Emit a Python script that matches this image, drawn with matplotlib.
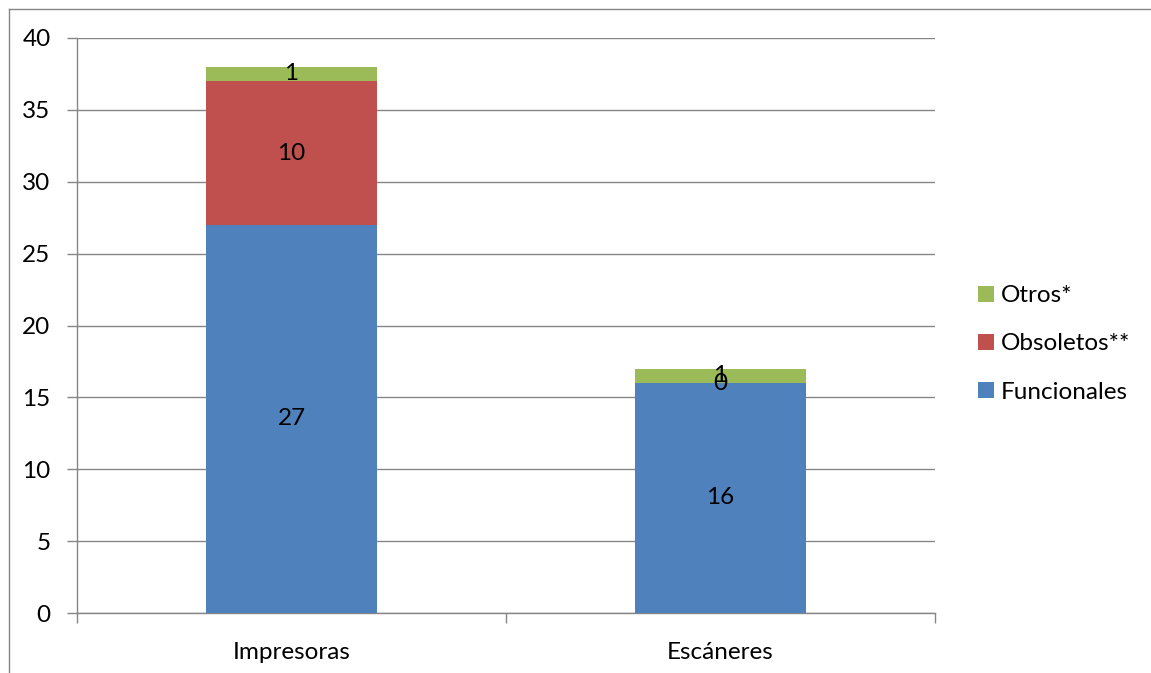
import matplotlib
matplotlib.use("Agg")
import matplotlib.pyplot as plt
from matplotlib.lines import Line2D
import numpy as np

categories = ["Impresoras", "Escáneres"]
funcionales = [27, 16]
obsoletos = [10, 0]
otros = [1, 1]
series_names = ["Funcionales", "Obsoletos**", "Otros*"]
colors = ["#4F81BD", "#C0504D", "#9BBB59"]
y_ticks = [0, 5, 10, 15, 20, 25, 30, 35, 40]

plt.rcParams['font.family'] = ['Lato', 'DejaVu Sans']
FS = 17.5

W, H = 1151, 673
fig = plt.figure(figsize=(W / 100, H / 100), dpi=100)
ax = fig.add_axes([77 / W, 1 - 613 / H, (935 - 77) / W, (613 - 38) / H])

x = np.arange(len(categories))
width = 0.4
bottom = np.zeros(len(categories))
handles = []
for vals, name, col in zip([funcionales, obsoletos, otros], series_names, colors):
    vals = np.array(vals, dtype=float)
    bars = ax.bar(x, vals, width, bottom=bottom, color=col, label=name, zorder=3)
    for xi, b, v in zip(x, bottom, vals):
        ax.text(xi, b + v / 2, f"{int(v)}", ha="center", va="center",
                fontsize=FS, color="black", zorder=4)
    handles.append(bars)
    bottom = bottom + vals

ax.set_xlim(-0.5, 1.5)
ax.set_ylim(0, 40)
ax.set_yticks(y_ticks)
ax.set_yticklabels([str(t) for t in y_ticks])
ax.yaxis.grid(True, color="#868686", linewidth=1.0, zorder=0)
ax.set_axisbelow(True)

ax.set_xticks(x)
ax.set_xticklabels(categories)
ax.set_xticks([-0.5, 0.5, 1.5], minor=True)
ax.tick_params(axis="x", which="major", length=0, pad=21, labelsize=FS)
ax.tick_params(axis="x", which="minor", length=7, color="#868686", width=1)
ax.tick_params(axis="y", length=7, color="#868686", width=1, pad=12, labelsize=FS)

for s in ["top", "right"]:
    ax.spines[s].set_visible(False)
for s in ["left", "bottom"]:
    ax.spines[s].set_color("#868686")
    ax.spines[s].set_linewidth(1)

leg = fig.legend(handles[::-1], series_names[::-1], loc="center left",
                 bbox_to_anchor=(968 / W, 1 - 344 / H), frameon=False,
                 fontsize=FS, handlelength=0.65, handleheight=0.65,
                 handletextpad=0.3, labelspacing=1.12, borderaxespad=0)

# outer frame
fig.add_artist(Line2D([9 / W, 9 / W], [0, 1 - 9 / H], color="#868686", linewidth=1, transform=fig.transFigure))
fig.add_artist(Line2D([9 / W, 1], [1 - 9 / H, 1 - 9 / H], color="#868686", linewidth=1, transform=fig.transFigure))

fig.savefig("out.png", dpi=100)
